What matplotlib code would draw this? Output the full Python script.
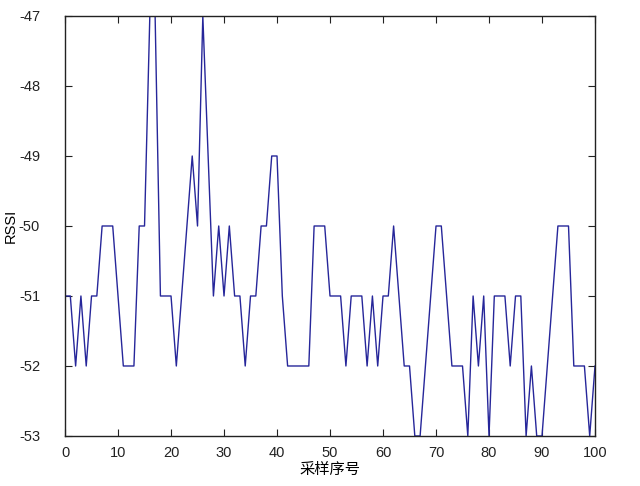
import matplotlib
matplotlib.use("Agg")
import matplotlib.pyplot as plt
import numpy as np

plt.rcParams['font.family'] = ['Liberation Sans', 'Noto Sans CJK SC', 'DejaVu Sans']
plt.rcParams['axes.unicode_minus'] = False

# sample index and RSSI reading
samples = np.arange(0, 101)
rssi = [-51, -51, -52, -51, -52, -51, -51, -50, -50, -50,
        -51, -52, -52, -52, -50, -50, -47, -47, -51, -51,
        -51, -52, -51, -50, -49, -50, -47, -49, -51, -50,
        -51, -50, -51, -51, -52, -51, -51, -50, -50, -49,
        -49, -51, -52, -52, -52, -52, -52, -50, -50, -50,
        -51, -51, -51, -52, -51, -51, -51, -52, -51, -52,
        -51, -51, -50, -51, -52, -52, -53, -53, -52, -51,
        -50, -50, -51, -52, -52, -52, -53, -51, -52, -51,
        -53, -51, -51, -51, -52, -51, -51, -53, -52, -53,
        -53, -52, -51, -50, -50, -50, -52, -52, -52, -53,
        -52]

x_ticks = list(range(0, 101, 10))
y_ticks = list(range(-53, -46))

fig = plt.figure(figsize=(6.4, 4.86), dpi=100)
ax = fig.add_axes([0.1016, 0.1029, 0.8281, 0.8642])
ax.plot(samples, rssi, color='#26269a', linewidth=1.0)

ax.set_xlim(0, 100)
ax.set_ylim(-53, -47)
ax.set_xticks(x_ticks)
ax.set_yticks(y_ticks)
ax.tick_params(direction='in', top=True, right=True, length=5,
               labelsize=10.5, colors='#222222')
ax.tick_params(axis='y', pad=18)
ax.tick_params(axis='x', pad=7)
for s in ax.spines.values():
    s.set_linewidth(1.0)
    s.set_color('#222222')

ax.set_xlabel('采样序号', fontsize=11, labelpad=2)
ax.set_ylabel('RSSI', fontsize=10.5, labelpad=1)

fig.savefig('out.png', dpi=100)
